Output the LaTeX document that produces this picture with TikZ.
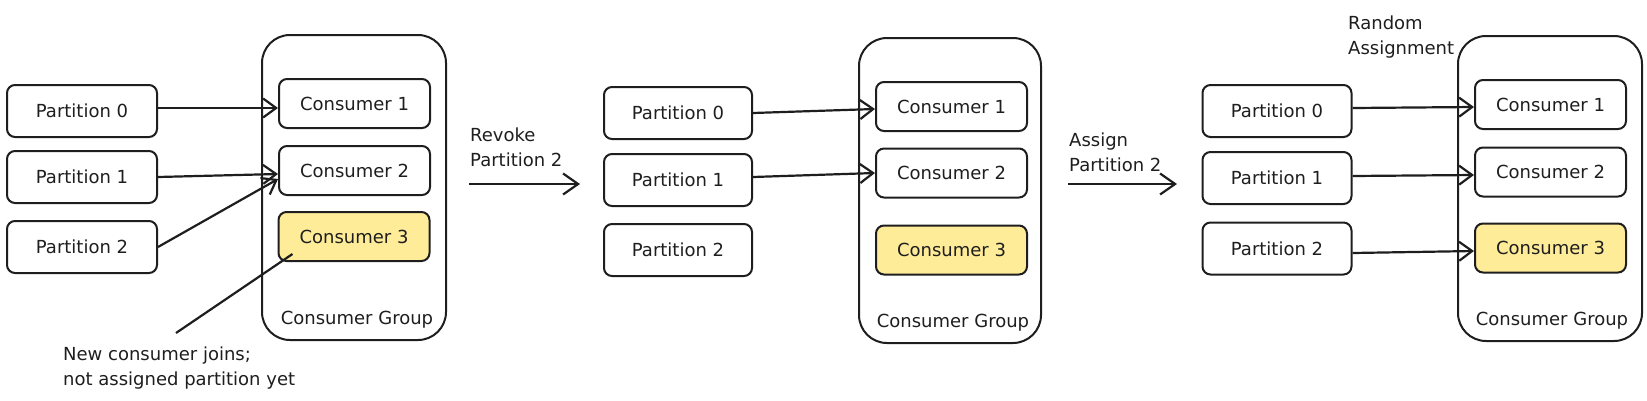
\documentclass[tikz,border=0pt]{standalone}
\usepackage{fontspec}
\setmainfont{DejaVu Sans}
\usetikzlibrary{arrows.meta}
\definecolor{ink}{HTML}{1E1E1E}
\definecolor{yel}{HTML}{FFEC99}
\begin{document}
\begin{tikzpicture}[x=1pt,y=-1pt,
  box/.style={draw=ink, line width=2pt, rounded corners=8pt, minimum width=150pt, minimum height=52pt,
    font=\fontsize{18}{22}\selectfont, text=ink, inner sep=0pt},
  cons/.style={box, minimum width=151pt, minimum height=49pt},
  hot/.style={fill=yel},
  grp/.style={draw=ink, line width=2pt, rounded corners=28pt, inner sep=0pt},
  lbl/.style={font=\fontsize{18}{25}\selectfont, text=ink, align=left, inner sep=0pt},
  arr/.style={draw=ink, line width=2.2pt, -{Straight Barb[length=13pt,width=19pt]}},
  bigarr/.style={draw=ink, line width=2.2pt, -{Straight Barb[length=15pt,width=21pt]}},
  plain/.style={draw=ink, line width=2.2pt},
]
\useasboundingbox (0,0) rectangle (1647,400);

% ---------- stage 1 ----------
\node[grp, minimum width=184pt, minimum height=305pt] (g1) at (354,187.5) {};
\node[box] (p0a) at (82,111) {Partition 0};
\node[box] (p1a) at (82,177) {Partition 1};
\node[box] (p2a) at (82,247) {Partition 2};
\node[cons] (c1a) at (354.5,103.5) {Consumer 1};
\node[cons] (c2a) at (354.5,170.5) {Consumer 2};
\node[cons, hot] (c3a) at (354,236.5) {Consumer 3};
\node[lbl, anchor=base] (g1l) at (357,324.5) {Consumer Group};
\draw[arr] ([yshift=3pt]p0a.east) -- ([yshift=-4.5pt]c1a.west);
\draw[arr] (p1a.east) -- ([yshift=-3.5pt]c2a.west);
\draw[arr] (p2a.east) -- ([yshift=-8.5pt]c2a.west);
\node[lbl, anchor=north west] (note) at (63,347) {New consumer joins;\\not assigned partition yet};
\coordinate (noteend) at (176,333);
\draw[plain] ([xshift=15pt,yshift=8pt]c3a.south west) -- (noteend);

% ---------- transition 1 ----------
\node[lbl, anchor=north west] (rev) at (470,128) {Revoke\\Partition 2};
\coordinate (r1s) at (469,184);
\coordinate (r1e) at (580,184);
\draw[bigarr] (r1s) -- (r1e);

% ---------- stage 2 ----------
\node[grp, minimum width=182pt, minimum height=305pt] (g2) at (950,190.5) {};
\node[box, minimum width=148pt] (p0b) at (678,113) {Partition 0};
\node[box, minimum width=148pt] (p1b) at (678,180) {Partition 1};
\node[box, minimum width=148pt] (p2b) at (678,250) {Partition 2};
\node[cons] (c1b) at (951.5,106.5) {Consumer 1};
\node[cons] (c2b) at (951.5,173) {Consumer 2};
\node[cons, hot] (c3b) at (951.5,250) {Consumer 3};
\node[lbl, anchor=base] (g2l) at (953,327.5) {Consumer Group};
\draw[arr] (p0b.east) -- ([yshift=-2.5pt]c1b.west);
\draw[arr] ([yshift=3pt]p1b.east) -- (c2b.west);

% ---------- transition 2 ----------
\node[lbl, anchor=north west] (asg) at (1069,133) {Assign\\Partition 2};
\coordinate (r2s) at (1068,184);
\coordinate (r2e) at (1177,184);
\draw[bigarr] (r2s) -- (r2e);
\node[lbl, anchor=north west] (rnd) at (1348,16) {Random\\Assignment};

% ---------- stage 3 ----------
\node[grp, minimum width=184pt, minimum height=305pt] (g3) at (1550,188.5) {};
\node[box, minimum width=149pt] (p0c) at (1277,111) {Partition 0};
\node[box, minimum width=149pt] (p1c) at (1277,178) {Partition 1};
\node[box, minimum width=149pt] (p2c) at (1277,248.5) {Partition 2};
\node[cons] (c1c) at (1550.5,104.5) {Consumer 1};
\node[cons] (c2c) at (1550.5,172) {Consumer 2};
\node[cons, hot] (c3c) at (1550.5,248) {Consumer 3};
\node[lbl, anchor=base] (g3l) at (1552,325.5) {Consumer Group};
\draw[arr] ([yshift=3pt]p0c.east) -- ([yshift=-2.5pt]c1c.west);
\draw[arr] ([yshift=2pt]p1c.east) -- ([yshift=-3pt]c2c.west);
\draw[arr] ([yshift=-4.5pt]p2c.east) -- ([yshift=-3pt]c3c.west);
\end{tikzpicture}
\end{document}
